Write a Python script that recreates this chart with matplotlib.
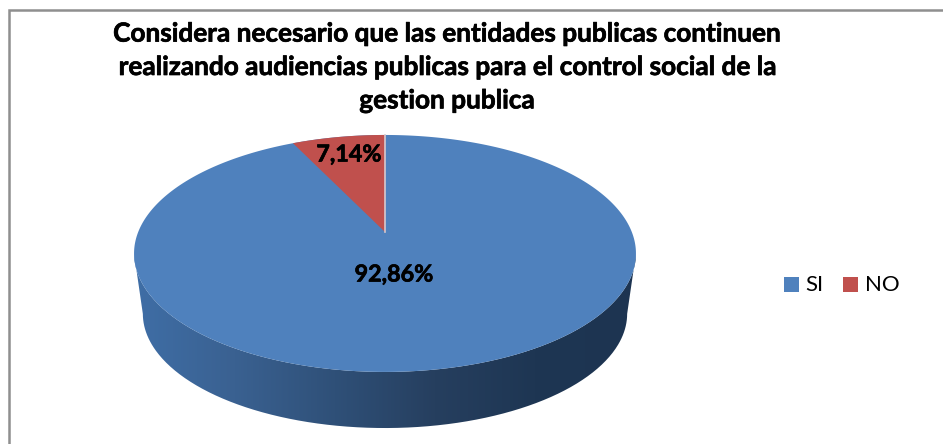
#!/usr/bin/env python3
"""Pie chart with a 3D look: SI / NO answers."""

import matplotlib
matplotlib.use("Agg")
import matplotlib.patheffects as pe
import matplotlib.pyplot as plt
import numpy as np
from matplotlib.colors import LinearSegmentedColormap
from matplotlib.patches import PathPatch, Polygon, Rectangle
from matplotlib.path import Path as MplPath

TITLE = (
    "Considera necesario que las entidades publicas continuen\n"
    "realizando audiencias publicas para el control social de la\n"
    "gestion publica"
)
CATEGORIES = ["SI", "NO"]
VALUES = [92.86, 7.14]
LABELS = ["92,86%", "7,14%"]

BLUE = "#4f81bd"
RED = "#c0504d"

plt.rcParams["font.family"] = ["Lato", "DejaVu Sans"]

W, H = 943, 444
CX, CY_APEX = 385, 232
A, B, K = 246.8, 114.6, 0.181  # perspective of the disc
DEPTH = 61

# the reference's text is heavier than Lato Bold
HEAVY = [pe.withStroke(linewidth=0.5, foreground="black")]


def disc(theta, shrink=1.0, drop=0.0):
    """Map angle (clockwise from 12 o'clock) on the unit disc to pixels."""
    u, v = np.sin(theta), np.cos(theta)
    w = 1 + K * v
    return CX + shrink * A * u / w, CY_APEX + drop + shrink * B * v * -1 / w


fig = plt.figure(figsize=(W / 100, H / 100), dpi=100)
ax = fig.add_axes([0, 0, 1, 1])
ax.set_xlim(0, W)
ax.set_ylim(H, 0)
ax.axis("off")

# chart frame, cut off at the right and at the bottom
ax.plot([9, 9, W], [H, 10, 10], color="#8f8f8f", lw=1.8, solid_joinstyle="miter")

# side wall, shaded left to right
t = np.linspace(0, 2 * np.pi, 721)
top_x, top_y = disc(t)
low_x, low_y = disc(t, shrink=0.965, drop=DEPTH)
right = np.argmax(top_x)
left = np.argmin(top_x)
low_r = np.argmax(low_x)
low_l = np.argmin(low_x)
wall = np.vstack([
    np.column_stack([top_x[right:left + 1], top_y[right:left + 1]]),
    np.column_stack([low_x[low_l:low_r - 1:-1], low_y[low_l:low_r - 1:-1]]),
])
wall_patch = PathPatch(MplPath(np.vstack([wall, wall[:1]])), fc="none", ec="none")
ax.add_patch(wall_patch)
shade = LinearSegmentedColormap.from_list(
    "wall", ["#3f6ea6", "#3a6191", "#2f5078", "#263f5f", "#1e3653", "#1d3451"]
)
grad = ax.imshow(
    np.linspace(0, 1, 256)[None, :], cmap=shade, aspect="auto",
    extent=(top_x.min(), top_x.max(), 440, 200), zorder=2,
)
grad.set_clip_path(wall_patch)
ax.set_xlim(0, W)
ax.set_ylim(H, 0)

# top face, slice sizes taken from the values
ax.add_patch(Polygon(np.column_stack([top_x, top_y]), fc=BLUE, ec="none", zorder=3))
no_angle = 2 * np.pi * VALUES[1] / sum(VALUES)
t_no = np.linspace(2 * np.pi - no_angle, 2 * np.pi, 60)
nx, ny = disc(t_no)
ax.add_patch(Polygon(
    np.column_stack([np.r_[CX, nx], np.r_[CY_APEX, ny]]), fc=RED, ec="none", zorder=4,
))
ax.plot([CX, CX], [CY_APEX, disc(0.0)[1]], color="#d9c8cc", lw=1.2, zorder=5)

# labels
ax.text(394, 275, LABELS[0], fontsize=16.8, fontweight="bold", ha="center", va="center",
        zorder=6, path_effects=HEAVY)
ax.text(349, 155, LABELS[1], fontsize=16.8, fontweight="bold", ha="center", va="center",
        zorder=6, path_effects=HEAVY)
ax.text(447, 67, TITLE, fontsize=18.85, fontweight="bold", ha="center", va="center",
        linespacing=1.47, zorder=6, path_effects=HEAVY)

# legend
for x0, cat, col, tx in [(784, CATEGORIES[0], BLUE, 805), (843, CATEGORIES[1], RED, 865)]:
    ax.add_patch(Rectangle((x0, 277), 15, 15, fc=col, ec="none", zorder=6))
    ax.text(tx, 284.5, cat, fontsize=16, ha="left", va="center", zorder=6)

fig.savefig("out.png", dpi=100)
